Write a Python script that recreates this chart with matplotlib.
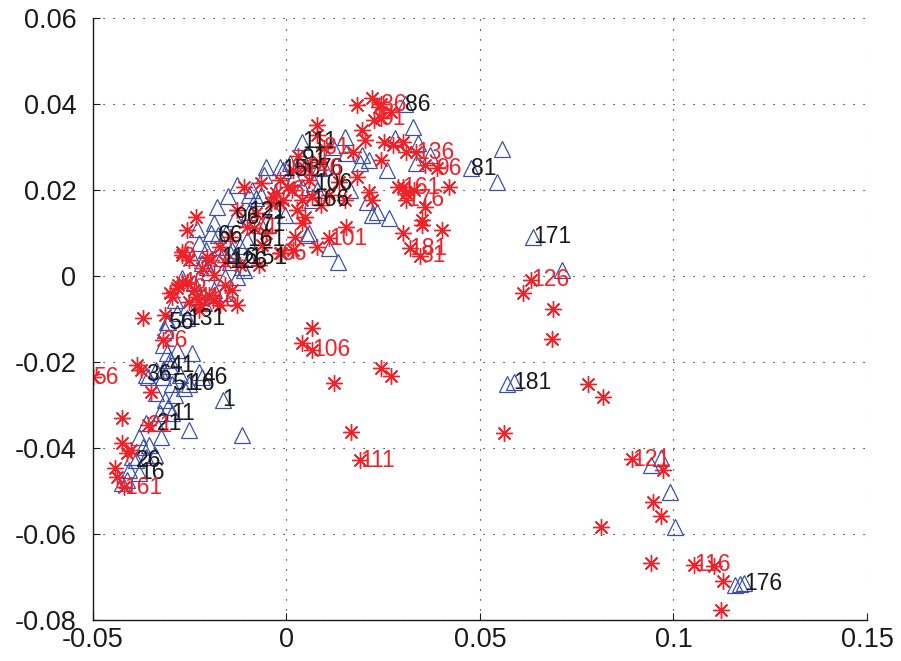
import matplotlib
matplotlib.use("Agg")
import matplotlib.pyplot as plt

# first factor scores: blue triangles and red stars, every 5th sample tagged
tri_x = [0.0478, 0.0556, 0.0543, 0.0638, 0.0713, 0.0571, 0.0587, 0.0943, 0.0969, 0.0992,
         0.1003, 0.1158, 0.1171, 0.1183, 0.0305, 0.0326, 0.0339, 0.0370, 0.0336, 0.0261,
         0.0150, 0.0155, 0.0196, 0.0214, 0.0189, 0.0041, -0.0052, -0.0018, 0.0008, 0.0047,
         0.0098, 0.0041, -0.0010, 0.0085, 0.0072, 0.0065, 0.0209, 0.0233, 0.0266, 0.0222,
         0.0059, 0.0111, 0.0132, -0.0088, 0.0041, 0.0078, 0.0163, -0.0127, -0.0096, -0.0065,
         -0.0078, -0.0186, -0.0155, -0.0194, -0.0225, -0.0243, -0.0207, -0.0173, -0.0147, -0.0217,
         0.0052, -0.0160, -0.0129, -0.0199, -0.0109, -0.0098, -0.0134, -0.0178, -0.0101, -0.0096,
         -0.0147, -0.0168, -0.0065, -0.0307, -0.0256, -0.0302, -0.0362, -0.0295, -0.0251, -0.0217,
         -0.0165, -0.0297, -0.0336, -0.0388, -0.0380, -0.0258, -0.0284, -0.0310, -0.0315, -0.0320,
         -0.0282, -0.0243, -0.0310, -0.0302, -0.0320, -0.0336, -0.0359, -0.0320, -0.0276, -0.0225,
         -0.0264, -0.0336, -0.0315, -0.0307, -0.0328, -0.0362, -0.0323, -0.0251, -0.0116, -0.0380,
         -0.0372, -0.0354, -0.0398, -0.0406, -0.0413, -0.0424, -0.0362, -0.0341, -0.0289, -0.0269,
         -0.0238, -0.0186, -0.0212, -0.0165, -0.0225, -0.0289, -0.0140, -0.0031, -0.0005, -0.0057,
         -0.0120, -0.0205, -0.0230, -0.0180, -0.0115, -0.0150, 0.0020, 0.0120, -0.0030, 0.0280]
tri_y = [0.0251, 0.0295, 0.0219, 0.0091, 0.0014, -0.0251, -0.0247, -0.0440, -0.0423, -0.0502,
         -0.0584, -0.0719, -0.0716, -0.0714, 0.0400, 0.0347, 0.0309, 0.0281, 0.0263, 0.0247,
         0.0323, 0.0286, 0.0281, 0.0270, 0.0263, 0.0312, 0.0253, 0.0253, 0.0263, 0.0253,
         0.0253, 0.0274, 0.0247, 0.0251, 0.0216, 0.0177, 0.0172, 0.0149, 0.0135, 0.0142,
         0.0100, 0.0065, 0.0033, 0.0200, 0.0207, 0.0200, 0.0200, 0.0212, 0.0188, 0.0188,
         0.0181, 0.0123, 0.0100, 0.0100, 0.0077, 0.0044, 0.0060, 0.0067, 0.0053, 0.0030,
         0.0095, -0.0002, -0.0002, 0.0009, 0.0014, 0.0149, 0.0135, 0.0095, 0.0084, 0.0042,
         0.0033, 0.0042, 0.0119, -0.0107, -0.0098, -0.0209, -0.0230, -0.0251, -0.0251, -0.0235,
         -0.0288, -0.0319, -0.0342, -0.0428, -0.0458, -0.0072, -0.0086, -0.0107, -0.0126, -0.0160,
         -0.0172, -0.0179, -0.0179, -0.0195, -0.0219, -0.0219, -0.0235, -0.0235, -0.0230, -0.0223,
         -0.0260, -0.0272, -0.0288, -0.0305, -0.0319, -0.0342, -0.0374, -0.0358, -0.0370, -0.0374,
         -0.0398, -0.0393, -0.0421, -0.0451, -0.0474, -0.0481, -0.0421, -0.0416, -0.0277, -0.0005,
         -0.0016, -0.0033, -0.0063, -0.0040, -0.0047, -0.0056, 0.0060, 0.0153, 0.0142, 0.0235,
         0.0070, 0.0020, 0.0110, 0.0160, 0.0020, 0.0185, 0.0230, 0.0300, 0.0190, 0.0320]
tri_lab = ['81', '', '', '171', '', '', '181', '', '', '',
           '', '', '', '176', '86', '', '', '', '', '',
           '', '', '', '', '', '111', '', '', '', '',
           '', '91', '156', '76', '106', '166', '', '', '', '',
           '', '', '', '', '', '', '', '', '', '',
           '', '', '', '', '', '', '', '', '', '',
           '', '', '', '', '', '121', '96', '66', '161', '151',
           '126', '116', '71', '56', '131', '41', '36', '51', '16', '46',
           '1', '11', '21', '26', '16', '', '', '', '', '',
           '', '', '', '', '', '', '', '', '', '',
           '', '', '', '', '', '', '', '', '', '',
           '', '', '', '', '', '', '', '', '', '',
           '', '', '', '', '', '', '', '', '', '',
           '', '', '', '', '', '', '', '', '', '']

star_x = [0.0610, 0.0633, 0.0690, 0.0687, 0.0780, 0.0819, 0.0563, 0.0894, 0.0972, 0.0946,
          0.0969, 0.0814, 0.0941, 0.1054, 0.1106, 0.1127, 0.1124, 0.0065, 0.0041, 0.0067,
          0.0245, 0.0271, 0.0124, 0.0168, 0.0191, 0.0222, 0.0183, 0.0240, 0.0271, 0.0245,
          0.0245, 0.0227, 0.0080, 0.0078, 0.0196, 0.0202, 0.0171, 0.0253, 0.0274, 0.0300,
          0.0310, 0.0245, 0.0336, 0.0357, 0.0388, 0.0421, 0.0287, 0.0310, 0.0357, 0.0351,
          0.0349, 0.0401, 0.0300, 0.0318, 0.0344, 0.0155, 0.0111, 0.0016, -0.0013, 0.0214,
          0.0220, 0.0041, 0.0003, -0.0036, -0.0018, -0.0065, 0.0026, 0.0013, 0.0300, 0.0310,
          0.0098, 0.0047, 0.0085, 0.0137, 0.0111, 0.0150, 0.0183, 0.0059, 0.0067, 0.0041,
          -0.0109, -0.0129, -0.0039, -0.0010, 0.0090, 0.0047, 0.0021, -0.0018, 0.0078, -0.0233,
          -0.0258, -0.0271, -0.0251, -0.0052, -0.0078, -0.0147, -0.0103, -0.0173, -0.0194, -0.0026,
          -0.0018, 0.0016, -0.0217, -0.0186, -0.0121, -0.0070, -0.0160, -0.0269, -0.0083, -0.0271,
          -0.0191, -0.0233, -0.0062, -0.0320, -0.0501, -0.0359, -0.0419, -0.0372, -0.0302, -0.0284,
          -0.0251, -0.0220, -0.0142, -0.0127, -0.0385, -0.0375, -0.0349, -0.0426, -0.0424, -0.0413,
          -0.0401, -0.0444, -0.0439, -0.0258, -0.0295, -0.0225, -0.0238, -0.0199, -0.0173, -0.0160,
          -0.0315, -0.0280, -0.0205, 0.0030, 0.0330]
star_y = [-0.0040, -0.0009, -0.0077, -0.0147, -0.0251, -0.0281, -0.0365, -0.0426, -0.0451, -0.0526,
          -0.0558, -0.0584, -0.0667, -0.0672, -0.0674, -0.0709, -0.0777, -0.0121, -0.0156, -0.0172,
          -0.0214, -0.0233, -0.0249, -0.0363, -0.0428, 0.0414, 0.0398, 0.0393, 0.0381, 0.0400,
          0.0367, 0.0363, 0.0351, 0.0328, 0.0340, 0.0316, 0.0288, 0.0312, 0.0305, 0.0312,
          0.0288, 0.0270, 0.0288, 0.0258, 0.0251, 0.0207, 0.0207, 0.0193, 0.0160, 0.0130,
          0.0119, 0.0107, 0.0100, 0.0065, 0.0047, 0.0114, 0.0088, 0.0060, 0.0053, 0.0195,
          0.0177, 0.0123, 0.0207, 0.0184, 0.0170, 0.0216, 0.0153, 0.0200, 0.0207, 0.0177,
          0.0298, 0.0251, 0.0265, 0.0219, 0.0188, 0.0177, 0.0230, 0.0223, 0.0184, 0.0177,
          0.0207, 0.0153, 0.0170, 0.0177, 0.0165, 0.0137, 0.0091, 0.0053, 0.0067, 0.0137,
          0.0107, 0.0049, 0.0037, 0.0100, 0.0147, 0.0091, 0.0114, 0.0067, 0.0037, 0.0193,
          0.0223, 0.0247, 0.0019, 0.0002, 0.0026, 0.0026, 0.0033, 0.0056, 0.0112, -0.0014,
          -0.0056, -0.0049, 0.0072, -0.0149, -0.0235, -0.0347, -0.0491, -0.0098, -0.0040, -0.0028,
          -0.0060, -0.0067, -0.0033, -0.0067, -0.0207, -0.0219, -0.0270, -0.0330, -0.0388, -0.0412,
          -0.0405, -0.0447, -0.0467, -0.0014, -0.0049, -0.0079, -0.0033, -0.0044, -0.0067, -0.0021,
          -0.0091, -0.0020, 0.0045, 0.0280, 0.0200]
star_lab = ['', '126', '', '', '', '', '', '121', '', '',
            '', '', '', '116', '', '', '', '', '', '106',
            '', '', '', '', '111', '', '', '', '', '86',
            '91', '', '', '', '', '', '', '', '', '',
            '', '', '136', '', '96', '', '', '', '', '',
            '', '', '', '181', '31', '', '101', '', '66', '',
            '', '', '', '', '', '', '', '6', '161', '176',
            '81', '146', '', '', '', '', '', '', '', '',
            '', '', '', '', '', '', '', '', '', '',
            '', '', '', '', '', '', '', '', '', '',
            '', '', '', '', '', '', '', '6', '71', '46',
            '16', '41', '', '26', '56', '21', '161', '', '', '',
            '', '', '', '', '', '', '', '', '', '',
            '', '', '', '', '', '', '', '', '', '',
            '', '', '', '', '']

xticks = [-0.05, 0, 0.05, 0.1, 0.15]
xtick_labels = ['-0.05', '0', '0.05', '0.1', '0.15']
yticks = [-0.08, -0.06, -0.04, -0.02, 0, 0.02, 0.04, 0.06]
ytick_labels = ['-0.08', '-0.06', '-0.04', '-0.02', '0', '0.02', '0.04', '0.06']

blue = '#3a52a6'
red = '#ee2229'

plt.rcParams['font.family'] = ['Liberation Sans', 'DejaVu Sans']

fig = plt.figure(figsize=(9.01, 6.61), dpi=100)
ax = fig.add_axes([0.1032, 0.062, 0.859, 0.9107])

ax.plot(tri_x, tri_y, linestyle='none', marker='^', markersize=12,
        markerfacecolor='none', markeredgecolor=blue, markeredgewidth=0.9)
ax.plot(star_x, star_y, linestyle='none', marker=(8, 2, 0), markersize=12,
        color=red, markeredgewidth=1.0)

for x, y, s in zip(tri_x, tri_y, tri_lab):
    if s:
        ax.text(x, y, s, color='#1a1a1a', fontsize=16.5, ha='left', va='center')
for x, y, s in zip(star_x, star_y, star_lab):
    if s:
        ax.text(x, y, s, color=red, fontsize=16.5, ha='left', va='center')

ax.set_xlim(-0.05, 0.15)
ax.set_ylim(-0.08, 0.06)
ax.set_xticks(xticks)
ax.set_xticklabels(xtick_labels)
ax.set_yticks(yticks)
ax.set_yticklabels(ytick_labels)
ax.tick_params(direction='in', length=5, width=0.8, labelsize=19.5, colors='#1a1a1a')
ax.tick_params(axis='y', pad=12)
ax.tick_params(axis='x', pad=5)

ax.grid(True, color='black', linestyle=(0, (1, 8)), linewidth=0.8)
ax.set_axisbelow(True)
for side in ['top', 'right']:
    ax.spines[side].set_visible(False)
for side in ['left', 'bottom']:
    ax.spines[side].set_linewidth(1.0)
    ax.spines[side].set_color('#1a1a1a')

fig.savefig('out.png', dpi=100)
